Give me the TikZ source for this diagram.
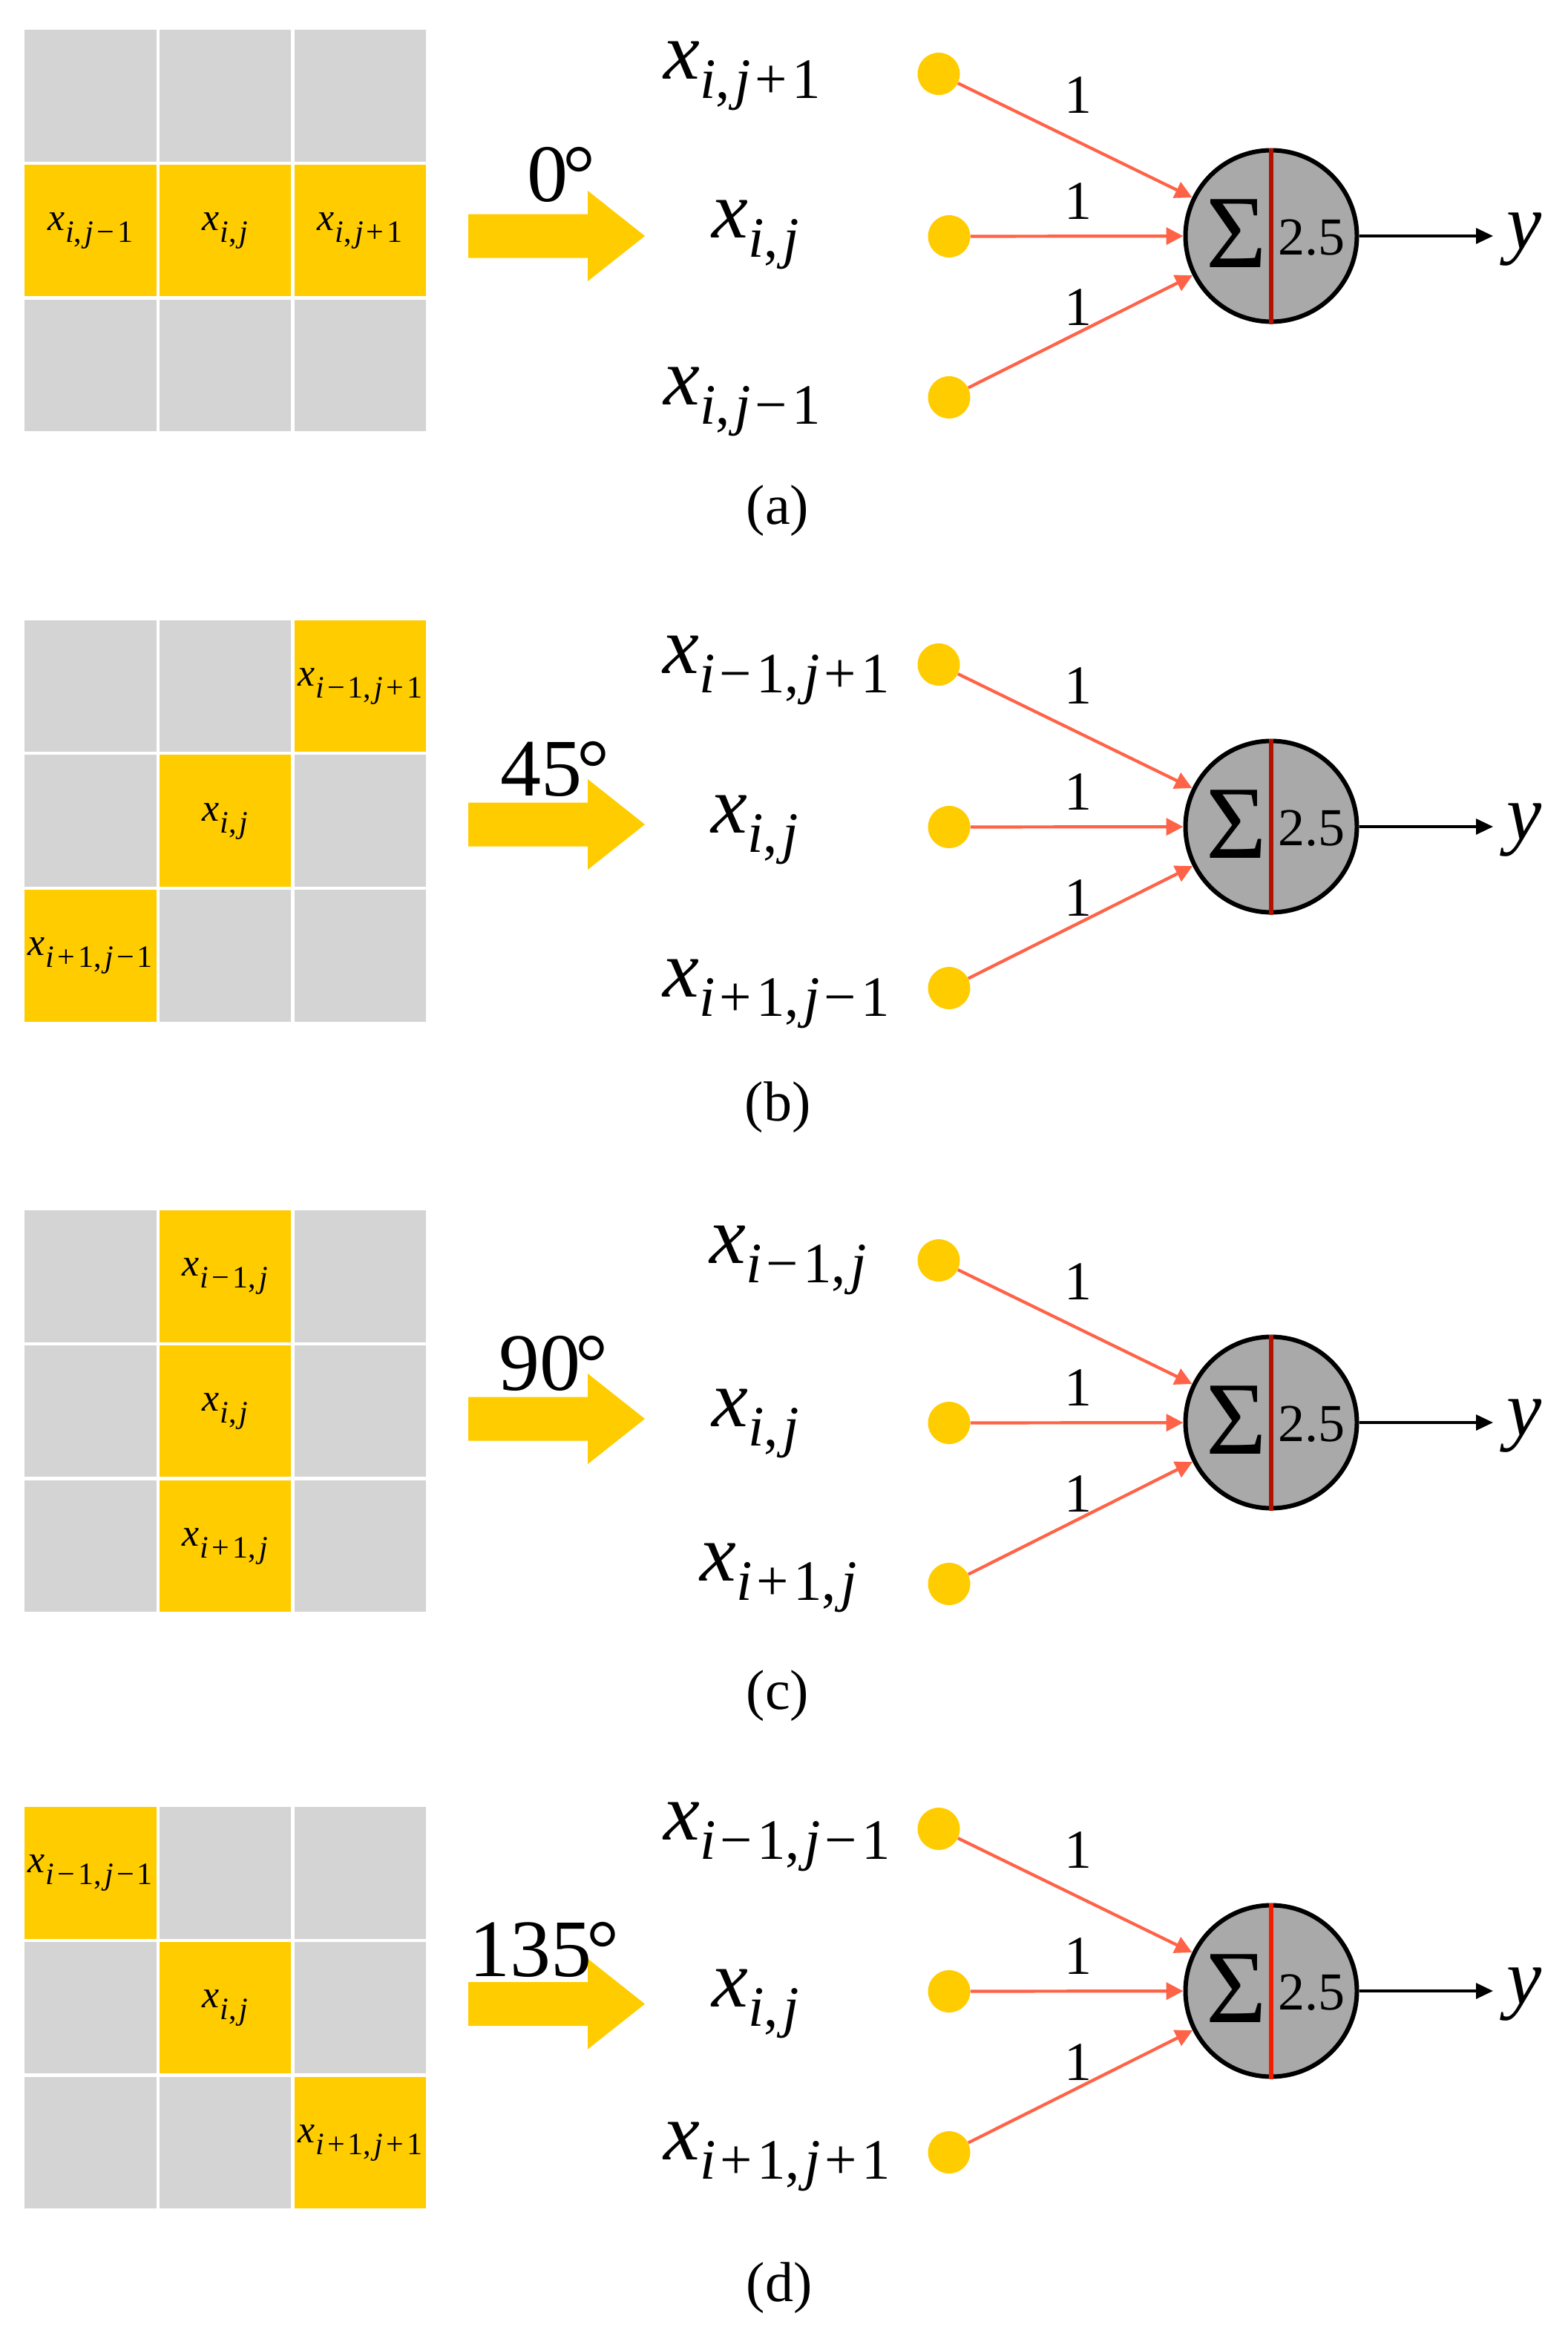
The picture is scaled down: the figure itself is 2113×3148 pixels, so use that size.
\documentclass[tikz,border=0pt]{standalone}
\usepackage{fontspec}
\setmainfont{Liberation Serif}
\usetikzlibrary{arrows.meta}
\definecolor{cellgray}{HTML}{D4D4D4}
\definecolor{yel}{HTML}{FFCC00}
\definecolor{tom}{HTML}{FF6347}
\definecolor{neugray}{HTML}{A9A9A9}
\definecolor{divred}{HTML}{B01400}
\definecolor{divredb}{HTML}{F01E00}
\def\gkamt{0.08em}
\newcommand\gk{\kern\gkamt}
\newcommand\Ii{\textit{i}}
\newcommand\Jj{\textit{j}}
\newcommand\Mn{\gk−\gk}
\newcommand\Pl{\gk+\gk}
\newcommand\Cm{,\gk}
\newcommand\Dg{\kern-0.06em°}
\newcommand\cellx[1]{{\def\gkamt{0.1em}\fontsize{26pt}{26pt}\selectfont\textit{x}\kern0.5pt\raisebox{-8pt}{\fontsize{21pt}{21pt}\selectfont #1}}}
\newcommand\bigx[1]{{\fontsize{55pt}{55pt}\selectfont\textit{x}\raisebox{-13pt}{\fontsize{38.5pt}{40pt}\selectfont #1}}}
\tikzset{
  cell/.style={rectangle, minimum width=88.75pt, minimum height=88.75pt, inner sep=0pt, draw=none},
  gcell/.style={cell, fill=cellgray},
  ycell/.style={cell, fill=yel},
  celltext/.style={inner sep=0pt, anchor=base},
  dot/.style={circle, fill=yel, minimum size=28.5pt, inner sep=0pt},
  neuron/.style={circle, draw=black, line width=3pt, fill=neugray, minimum size=115.5pt, inner sep=0pt},
  wire/.style={draw=tom, line width=2.1pt, -{Triangle[length=11.5pt,width=11.5pt]}},
  outwire/.style={draw=black, line width=1.6pt, -{Triangle[length=11.5pt,width=10.5pt]}},
  weight/.style={font=\fontsize{37pt}{37pt}\selectfont, inner sep=0pt},
  inlabel/.style={inner sep=0pt, anchor=base west},
  deg/.style={font=\fontsize{55pt}{55pt}\selectfont, inner sep=0pt, anchor=base west},
  captext/.style={font=\fontsize{38pt}{38pt}\selectfont, inner sep=0pt, anchor=base},
  sig/.style={font=\fontsize{70pt}{70pt}\selectfont, inner sep=0pt},
  thr/.style={font=\fontsize{36pt}{36pt}\selectfont, inner sep=0pt, anchor=base west},
}
\newcommand\Grid[3]{%
  \foreach \s [count=\k from 0] in {#3} {%
    \pgfmathtruncatemacro\rr{\k/3}%
    \pgfmathtruncatemacro\cc{mod(\k,3)}%
    \node[\s] (#1\rr\cc) at ({121.75+\cc*181.75},{#2+88.75+\rr*181.75}) {};
  }}
\newcommand\YArrow[1]{%
  \fill[yel] (631,#1-29.5) -- (792,#1-29.5) -- (792,#1-61) -- (869,#1) -- (792,#1+61) -- (792,#1+29.5) -- (631,#1+29.5) -- cycle;}
\newcommand\Neuron[3]{%
  \node[neuron] (#1n) at (1713,#2) {};
  \draw[line width=3pt, #3] (#1n.north) -- (#1n.south);
  \node[sig] (#1s) at (1666,#2-3) {Σ};
  \node[thr] (#1t) at (1722,#2+25) {2.5};
  \node[dot] (#1d1) at (1265,#2-218.5) {};
  \node[dot] (#1d2) at (1279,#2+0.5) {};
  \node[dot] (#1d3) at (1279,#2+217.5) {};
  \draw[wire] (#1d1) -- (#1n);
  \draw[wire] (#1d2) -- (#1n);
  \draw[wire] (#1d3) -- (#1n);
  \node[weight] (#1w1) at (1453,#2-189.5) {1};
  \node[weight] (#1w2) at (1453,#2-46.5) {1};
  \node[weight] (#1w3) at (1453,#2+96) {1};
  \coordinate (#1o) at (2012,#2);
  \draw[outwire] (#1n) -- (#1o);
  \node[inlabel] (#1y) at (2030,#2+17) {\fontsize{53pt}{53pt}\selectfont\textit{y}};
}
\begin{document}
\begin{tikzpicture}[x=0.5pt,y=-0.5pt]
\fill[white] (0,0) rectangle (2113,3148);
\useasboundingbox (0,0) rectangle (2113,3148);
% ---------- (a)
\Grid{a}{40}{gcell,gcell,gcell,ycell,ycell,ycell,gcell,gcell,gcell}
\node[celltext] (a10t) at (a10) {\cellx{\Ii\Cm\Jj\Mn1}};
\node[celltext] (a11t) at (a11) {\cellx{\Ii\Cm\Jj}};
\node[celltext] (a12t) at (a12) {\cellx{\Ii\Cm\Jj\Pl1}};
\YArrow{318}
\node[deg] (adeg) at (710,271) {0\Dg};
\Neuron{a}{318}{divred}
\node[inlabel] (al1) at (894,106) {\bigx{\Ii\Cm\Jj\Pl1}};
\node[inlabel] (al2) at (959,320) {\bigx{\Ii\Cm\Jj}};
\node[inlabel] (al3) at (894,545) {\bigx{\Ii\Cm\Jj\Mn1}};
\node[captext] (acap) at (1048,706.7) {(a)};
% ---------- (b)
\Grid{b}{835.6}{gcell,gcell,ycell,gcell,ycell,gcell,ycell,gcell,gcell}
\node[celltext] (b02t) at (b02) {\cellx{\Ii\Mn1\Cm\Jj\Pl1}};
\node[celltext] (b11t) at (b11) {\cellx{\Ii\Cm\Jj}};
\node[celltext] (b20t) at (b20) {\cellx{\Ii\Pl1\Cm\Jj\Mn1}};
\YArrow{1111}
\node[deg] (bdeg) at (674,1072) {45\Dg};
\Neuron{b}{1114}{divred}
\node[inlabel] (bl1) at (893,907.5) {\bigx{\Ii\Mn1\Cm\Jj\Pl1}};
\node[inlabel] (bl2) at (958,1122) {\bigx{\Ii\Cm\Jj}};
\node[inlabel] (bl3) at (893,1343.7) {\bigx{\Ii\Pl1\Cm\Jj\Mn1}};
\node[captext] (bcap) at (1048,1510) {(b)};
% ---------- (c)
\Grid{c}{1631}{gcell,ycell,gcell,gcell,ycell,gcell,gcell,ycell,gcell}
\node[celltext] (c01t) at (c01) {\cellx{\Ii\Mn1\Cm\Jj}};
\node[celltext] (c11t) at (c11) {\cellx{\Ii\Cm\Jj}};
\node[celltext] (c21t) at (c21) {\cellx{\Ii\Pl1\Cm\Jj}};
\YArrow{1912}
\node[deg] (cdeg) at (672,1873) {90\Dg};
\Neuron{c}{1917}{divred}
\node[inlabel] (cl1) at (956,1702.6) {\bigx{\Ii\Mn1\Cm\Jj}};
\node[inlabel] (cl2) at (959,1922) {\bigx{\Ii\Cm\Jj}};
\node[inlabel] (cl3) at (943,2130) {\bigx{\Ii\Pl1\Cm\Jj}};
\node[captext] (ccap) at (1048,2303) {(c)};
% ---------- (d)
\Grid{d}{2435}{ycell,gcell,gcell,gcell,ycell,gcell,gcell,gcell,ycell}
\node[celltext] (d00t) at (d00) {\cellx{\Ii\Mn1\Cm\Jj\Mn1}};
\node[celltext] (d11t) at (d11) {\cellx{\Ii\Cm\Jj}};
\node[celltext] (d22t) at (d22) {\cellx{\Ii\Pl1\Cm\Jj\Pl1}};
\YArrow{2700.5}
\node[deg] (ddeg) at (632,2663) {135\Dg};
\Neuron{d}{2683}{divredb}
\node[inlabel] (dl1) at (894,2479) {\bigx{\Ii\Mn1\Cm\Jj\Mn1}};
\node[inlabel] (dl2) at (959,2704.5) {\bigx{\Ii\Cm\Jj}};
\node[inlabel] (dl3) at (894,2910) {\bigx{\Ii\Pl1\Cm\Jj\Pl1}};
\node[captext] (dcap) at (1050,3101.7) {(d)};
\end{tikzpicture}
\end{document}
